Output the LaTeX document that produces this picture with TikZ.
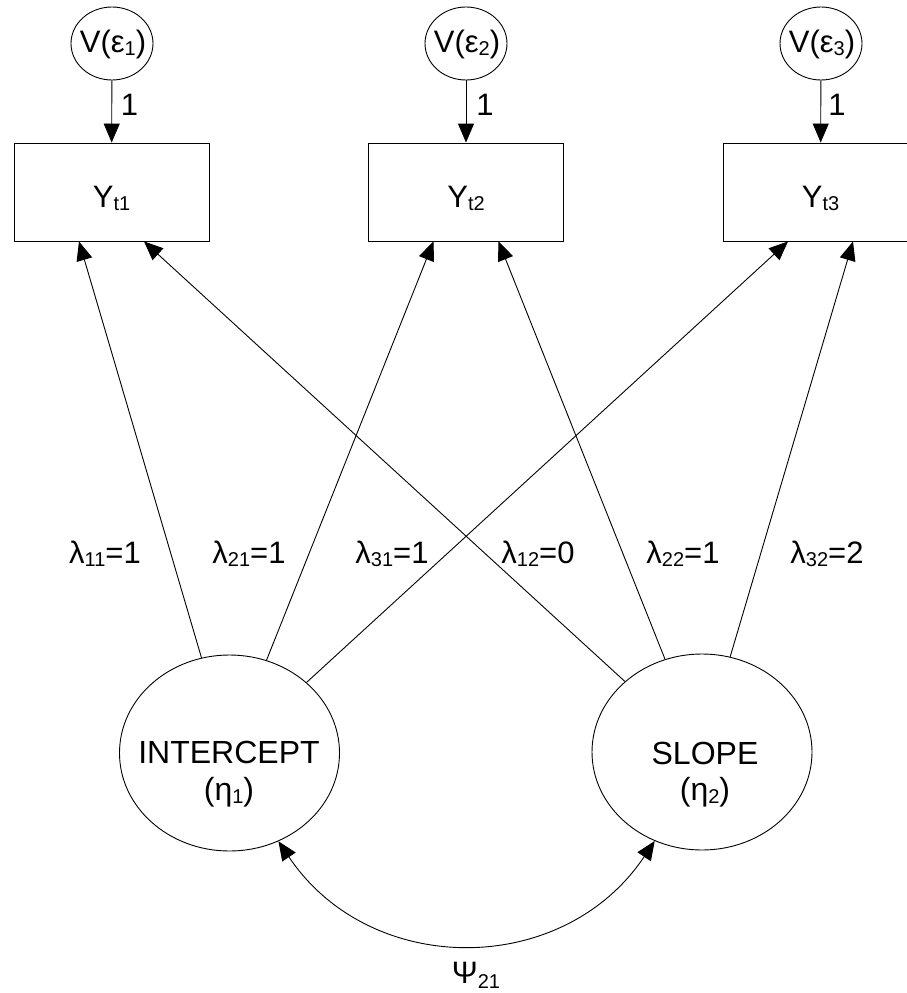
\documentclass[tikz,border=0pt]{standalone}
\usepackage{fontspec}
\setmainfont{Liberation Sans}
\usetikzlibrary{shapes.geometric,arrows.meta,calc}
\newcommand\sbs[1]{\raisebox{-3pt}{\fontsize{20}{20}\selectfont #1}}
\begin{document}
\begin{tikzpicture}[x=1pt,y=-1pt, line width=0.9pt,
  every node/.style={font=\fontsize{31}{37}\selectfont},
  txt/.style={anchor=base, inner sep=0pt},
  big/.style={font=\fontsize{32}{38}\selectfont},
  errc/.style={draw, ellipse, minimum width=82pt, minimum height=73pt, inner sep=0pt},
  obs/.style={draw, rectangle, minimum width=195pt, minimum height=98pt, inner sep=0pt},
  lat/.style={draw, ellipse, minimum width=220pt, minimum height=196pt, inner sep=0pt},
  arr/.style={-{Triangle[length=19pt,width=16pt]}},
  darr/.style={{Triangle[length=19pt,width=16pt]}-{Triangle[length=19pt,width=16pt]}}]
\useasboundingbox (0,0) rectangle (906,993);

% error variances
\node[errc] (e1) at (112,43.5) {};
\node[errc] (e2) at (466,43.5) {};
\node[errc] (e3) at (821,43.5) {};
\node[txt] (te1) at (113,52) {V(ε\sbs{1})};
\node[txt] (te2) at (467,52) {V(ε\sbs{2})};
\node[txt] (te3) at (822,52) {V(ε\sbs{3})};

% observed
\node[obs] (y1) at (111.5,192) {};
\node[obs] (y2) at (466,192) {};
\node[obs] (y3) at (820.5,192) {};
\node[txt] (ty1) at (111.5,207) {Y\sbs{t1}};
\node[txt] (ty2) at (466,207) {Y\sbs{t2}};
\node[txt] (ty3) at (820.5,207) {Y\sbs{t3}};

\draw[arr] (e1) -- (y1);
\draw[arr] (e2) -- (y2);
\draw[arr] (e3) -- (y3);
\node[txt] (o1) at (129.5,115) {1};
\node[txt] (o2) at (485,115) {1};
\node[txt] (o3) at (837,115) {1};

% latent
\node[lat] (int) at (229.5,753) {};
\node[lat] (slo) at (702,752) {};
\node[txt,big] (ti1) at (229,763.5) {INTERCEPT};
\node[txt,big] (ti2) at (229,800.5) {(η\sbs{1})};
\node[txt,big] (ts1) at (705,764) {SLOPE};
\node[txt,big] (ts2) at (705,800.5) {(η\sbs{2})};

% target points on box bottoms
\coordinate (y1a) at ($(y1.south)+(-32.5,0)$);
\coordinate (y1b) at ($(y1.south)+(32.5,0)$);
\coordinate (y2a) at ($(y2.south)+(-32.5,0)$);
\coordinate (y2b) at ($(y2.south)+(32.5,0)$);
\coordinate (y3a) at ($(y3.south)+(-32.5,0)$);
\coordinate (y3b) at ($(y3.south)+(32.5,0)$);

\draw[arr] (int) -- (y1a);
\draw[arr] (int) -- (y2a);
\draw[arr] (int) -- (y3a);
\draw[arr] (slo) -- (y1b);
\draw[arr] (slo) -- (y2b);
\draw[arr] (slo) -- (y3b);

% loading labels
\node[txt] (l11) at (105,563) {λ\sbs{11}=1};
\node[txt] (l21) at (249,563) {λ\sbs{21}=1};
\node[txt] (l31) at (392,563) {λ\sbs{31}=1};
\node[txt] (l12) at (538,563) {λ\sbs{12}=0};
\node[txt] (l22) at (683,563) {λ\sbs{22}=1};
\node[txt] (l32) at (827,563) {λ\sbs{32}=2};

% covariance
\draw[darr] (int.-61) .. controls (370,978) and (563,978) .. (slo.-118);
\node[txt] (psi) at (476,983) {Ψ\raisebox{-5pt}{\fontsize{20}{20}\selectfont 21}};
\end{tikzpicture}
\end{document}
